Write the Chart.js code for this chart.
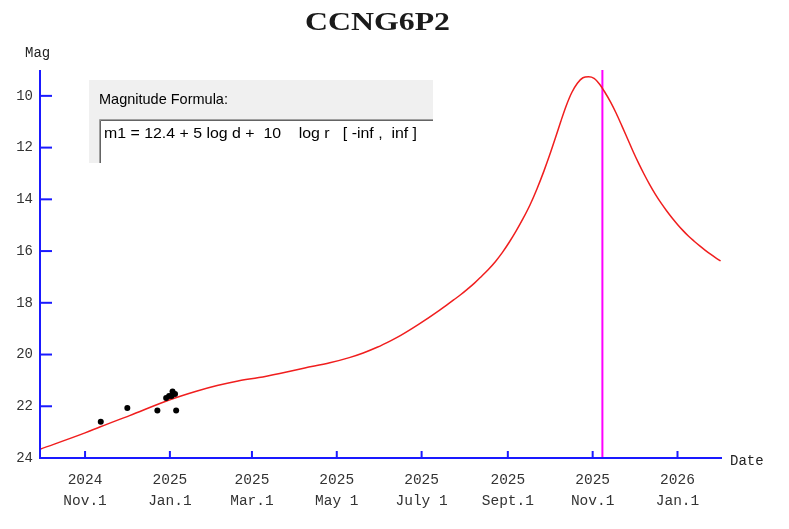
<!DOCTYPE html>
<html><head><meta charset="utf-8">
<script src="https://cdn.jsdelivr.net/npm/chart.js@4.4.1/dist/chart.umd.min.js"></script>
<style>html,body{margin:0;padding:0;background:#fff;}#wrap{width:789px;height:529px;position:relative;}</style>
</head><body><div id="wrap"><canvas id="c"></canvas></div>
<script>
const chartTitle = 'CCNG6P2';
// x values are days since 2024-11-01
const curveDays = [-32.4, 0, 11, 32, 61, 80, 95, 110, 125, 140, 158, 176, 190, 200, 210, 220, 227, 235, 245, 255, 260, 265, 270, 275, 280, 285, 290, 295, 300, 305, 310, 315, 320, 325, 330, 334, 338, 342, 346, 350, 354, 358, 362, 366, 370, 374, 378, 382, 386, 390, 394, 398, 402, 406, 410, 414, 418, 422, 426, 430, 434, 438, 442, 446, 450, 454, 457];
const curveMags = [23.66, 23.03, 22.79, 22.36, 21.75, 21.42, 21.20, 21.02, 20.89, 20.73, 20.52, 20.32, 20.12, 19.94, 19.72, 19.46, 19.26, 19.00, 18.65, 18.28, 18.09, 17.89, 17.69, 17.47, 17.24, 16.98, 16.71, 16.41, 16.06, 15.66, 15.22, 14.74, 14.21, 13.59, 12.90, 12.30, 11.66, 11.00, 10.38, 9.87, 9.51, 9.30, 9.26, 9.32, 9.55, 9.88, 10.25, 10.68, 11.16, 11.65, 12.14, 12.60, 13.03, 13.43, 13.80, 14.13, 14.43, 14.71, 14.97, 15.21, 15.43, 15.62, 15.80, 15.97, 16.13, 16.28, 16.38];
const obsDays = [11.3, 30.4, 52.0, 58.3, 60.4, 62.2, 62.9, 64.7, 65.5];
const obsMags = [22.60, 22.07, 22.16, 21.68, 21.60, 21.60, 21.43, 21.53, 22.16];
const tickDays = [0, 61, 120, 181, 242, 304, 365, 426];
const tickYears = ['2024', '2025', '2025', '2025', '2025', '2025', '2025', '2026'];
const tickMonths = ['Nov.1', 'Jan.1', 'Mar.1', 'May 1', 'July 1', 'Sept.1', 'Nov.1', 'Jan.1'];
const magTicks = [10, 12, 14, 16, 18, 20, 22, 24];
const markerDay = 372;
const formulaTitle = 'Magnitude Formula:';
const formulaText = 'm1 = 12.4 + 5 log d +  10    log r   [ -inf ,  inf ]';

const AXIS = '#1a1aff';
const MONO = '"Liberation Mono", "DejaVu Sans Mono", monospace';

const deco = {
  id: 'deco',
  afterDraw(chart) {
    const ctx = chart.ctx, xs = chart.scales.x, ys = chart.scales.y, ca = chart.chartArea;
    ctx.save();
    // axes
    ctx.strokeStyle = AXIS; ctx.lineWidth = 2;
    ctx.beginPath();
    ctx.moveTo(ca.left, ca.top); ctx.lineTo(ca.left, ca.bottom); ctx.lineTo(ca.right, ca.bottom);
    ctx.stroke();
    ys.ticks.forEach(t => {
      const y = ys.getPixelForValue(t.value);
      ctx.beginPath(); ctx.moveTo(ca.left, y); ctx.lineTo(ca.left + 12, y); ctx.stroke();
    });
    xs.ticks.forEach(t => {
      const x = xs.getPixelForValue(t.value);
      ctx.beginPath(); ctx.moveTo(x, ca.bottom); ctx.lineTo(x, ca.bottom - 7); ctx.stroke();
    });
    // axis titles
    ctx.fillStyle = '#222';
    ctx.font = '14px ' + MONO;
    ctx.textBaseline = 'middle'; ctx.textAlign = 'left';
    ctx.fillText('Mag', 25, 53);
    ctx.fillText('Date', ca.right + 8, ca.bottom + 3);
    // title
    ctx.font = 'bold 26px "Liberation Serif", serif';
    ctx.textBaseline = 'alphabetic'; ctx.textAlign = 'center';
    const w = ctx.measureText(chartTitle).width;
    ctx.save();
    ctx.translate(377.5, 30);
    ctx.scale(145 / w, 1);
    ctx.fillStyle = '#1a1a1a';
    ctx.fillText(chartTitle, 0, 0);
    ctx.restore();
    // formula box
    ctx.fillStyle = '#f0f0f0';
    ctx.fillRect(89, 80, 344, 83);
    ctx.fillStyle = '#ffffff';
    ctx.fillRect(101, 121, 332, 42);
    ctx.strokeStyle = '#a0a0a0'; ctx.lineWidth = 1;
    ctx.beginPath(); ctx.moveTo(99.5, 163); ctx.lineTo(99.5, 119.5); ctx.lineTo(433, 119.5); ctx.stroke();
    ctx.strokeStyle = '#646464';
    ctx.beginPath(); ctx.moveTo(100.5, 163); ctx.lineTo(100.5, 120.5); ctx.lineTo(433, 120.5); ctx.stroke();
    ctx.fillStyle = '#000';
    ctx.textAlign = 'left'; ctx.textBaseline = 'middle';
    ctx.font = '14.5px "Liberation Sans", Arial, sans-serif';
    ctx.fillText(formulaTitle, 99, 100);
    ctx.font = '14px "Liberation Sans", Arial, sans-serif';
    const fw = ctx.measureText(formulaText).width;
    ctx.save();
    ctx.translate(104, 134);
    ctx.scale(313 / fw, 1);
    ctx.fillText(formulaText, 0, 0);
    ctx.restore();
    ctx.restore();
  }
};

new Chart(document.getElementById('c'), {
  type: 'scatter',
  data: {
    datasets: [
      {
        type: 'line',
        data: curveDays.map((d, i) => ({ x: d, y: curveMags[i] })),
        borderColor: '#f01e1e', borderWidth: 1.5, pointRadius: 0,
        cubicInterpolationMode: 'monotone', fill: false, order: 2
      },
      {
        type: 'line',
        data: [{ x: markerDay, y: 9 }, { x: markerDay, y: 24 }],
        borderColor: '#ff00ff', borderWidth: 2, pointRadius: 0, fill: false, order: 3
      },
      {
        data: obsDays.map((d, i) => ({ x: d, y: obsMags[i] })),
        backgroundColor: '#000', borderColor: '#000', pointRadius: 3, borderWidth: 0, order: 1
      }
    ]
  },
  options: {
    responsive: true, maintainAspectRatio: false, animation: false,
    layout: { padding: { top: 70, right: 67, left: 0, bottom: 0 } },
    plugins: { legend: { display: false }, title: { display: false }, tooltip: { enabled: false } },
    scales: {
      x: {
        type: 'linear', min: -32.4, max: 458,
        afterBuildTicks: s => { s.ticks = tickDays.map(v => ({ value: v })); },
        afterFit: s => { s.height = 71; },
        grid: { display: false, drawTicks: false }, border: { display: false },
        ticks: {
          autoSkip: false, maxRotation: 0, padding: 11, color: '#333',
          font: { family: MONO, size: 14.5, lineHeight: 1.47 },
          callback: (v) => { const i = tickDays.indexOf(v); return i < 0 ? '' : [tickYears[i], tickMonths[i]]; }
        }
      },
      y: {
        type: 'linear', min: 9, max: 24, reverse: true,
        afterBuildTicks: s => { s.ticks = magTicks.map(v => ({ value: v })); },
        afterFit: s => { s.width = 40; },
        grid: { display: false, drawTicks: false }, border: { display: false },
        ticks: { autoSkip: false, padding: 7, color: '#333', font: { family: MONO, size: 14 } }
      }
    }
  },
  plugins: [deco]
});
</script></body></html>
